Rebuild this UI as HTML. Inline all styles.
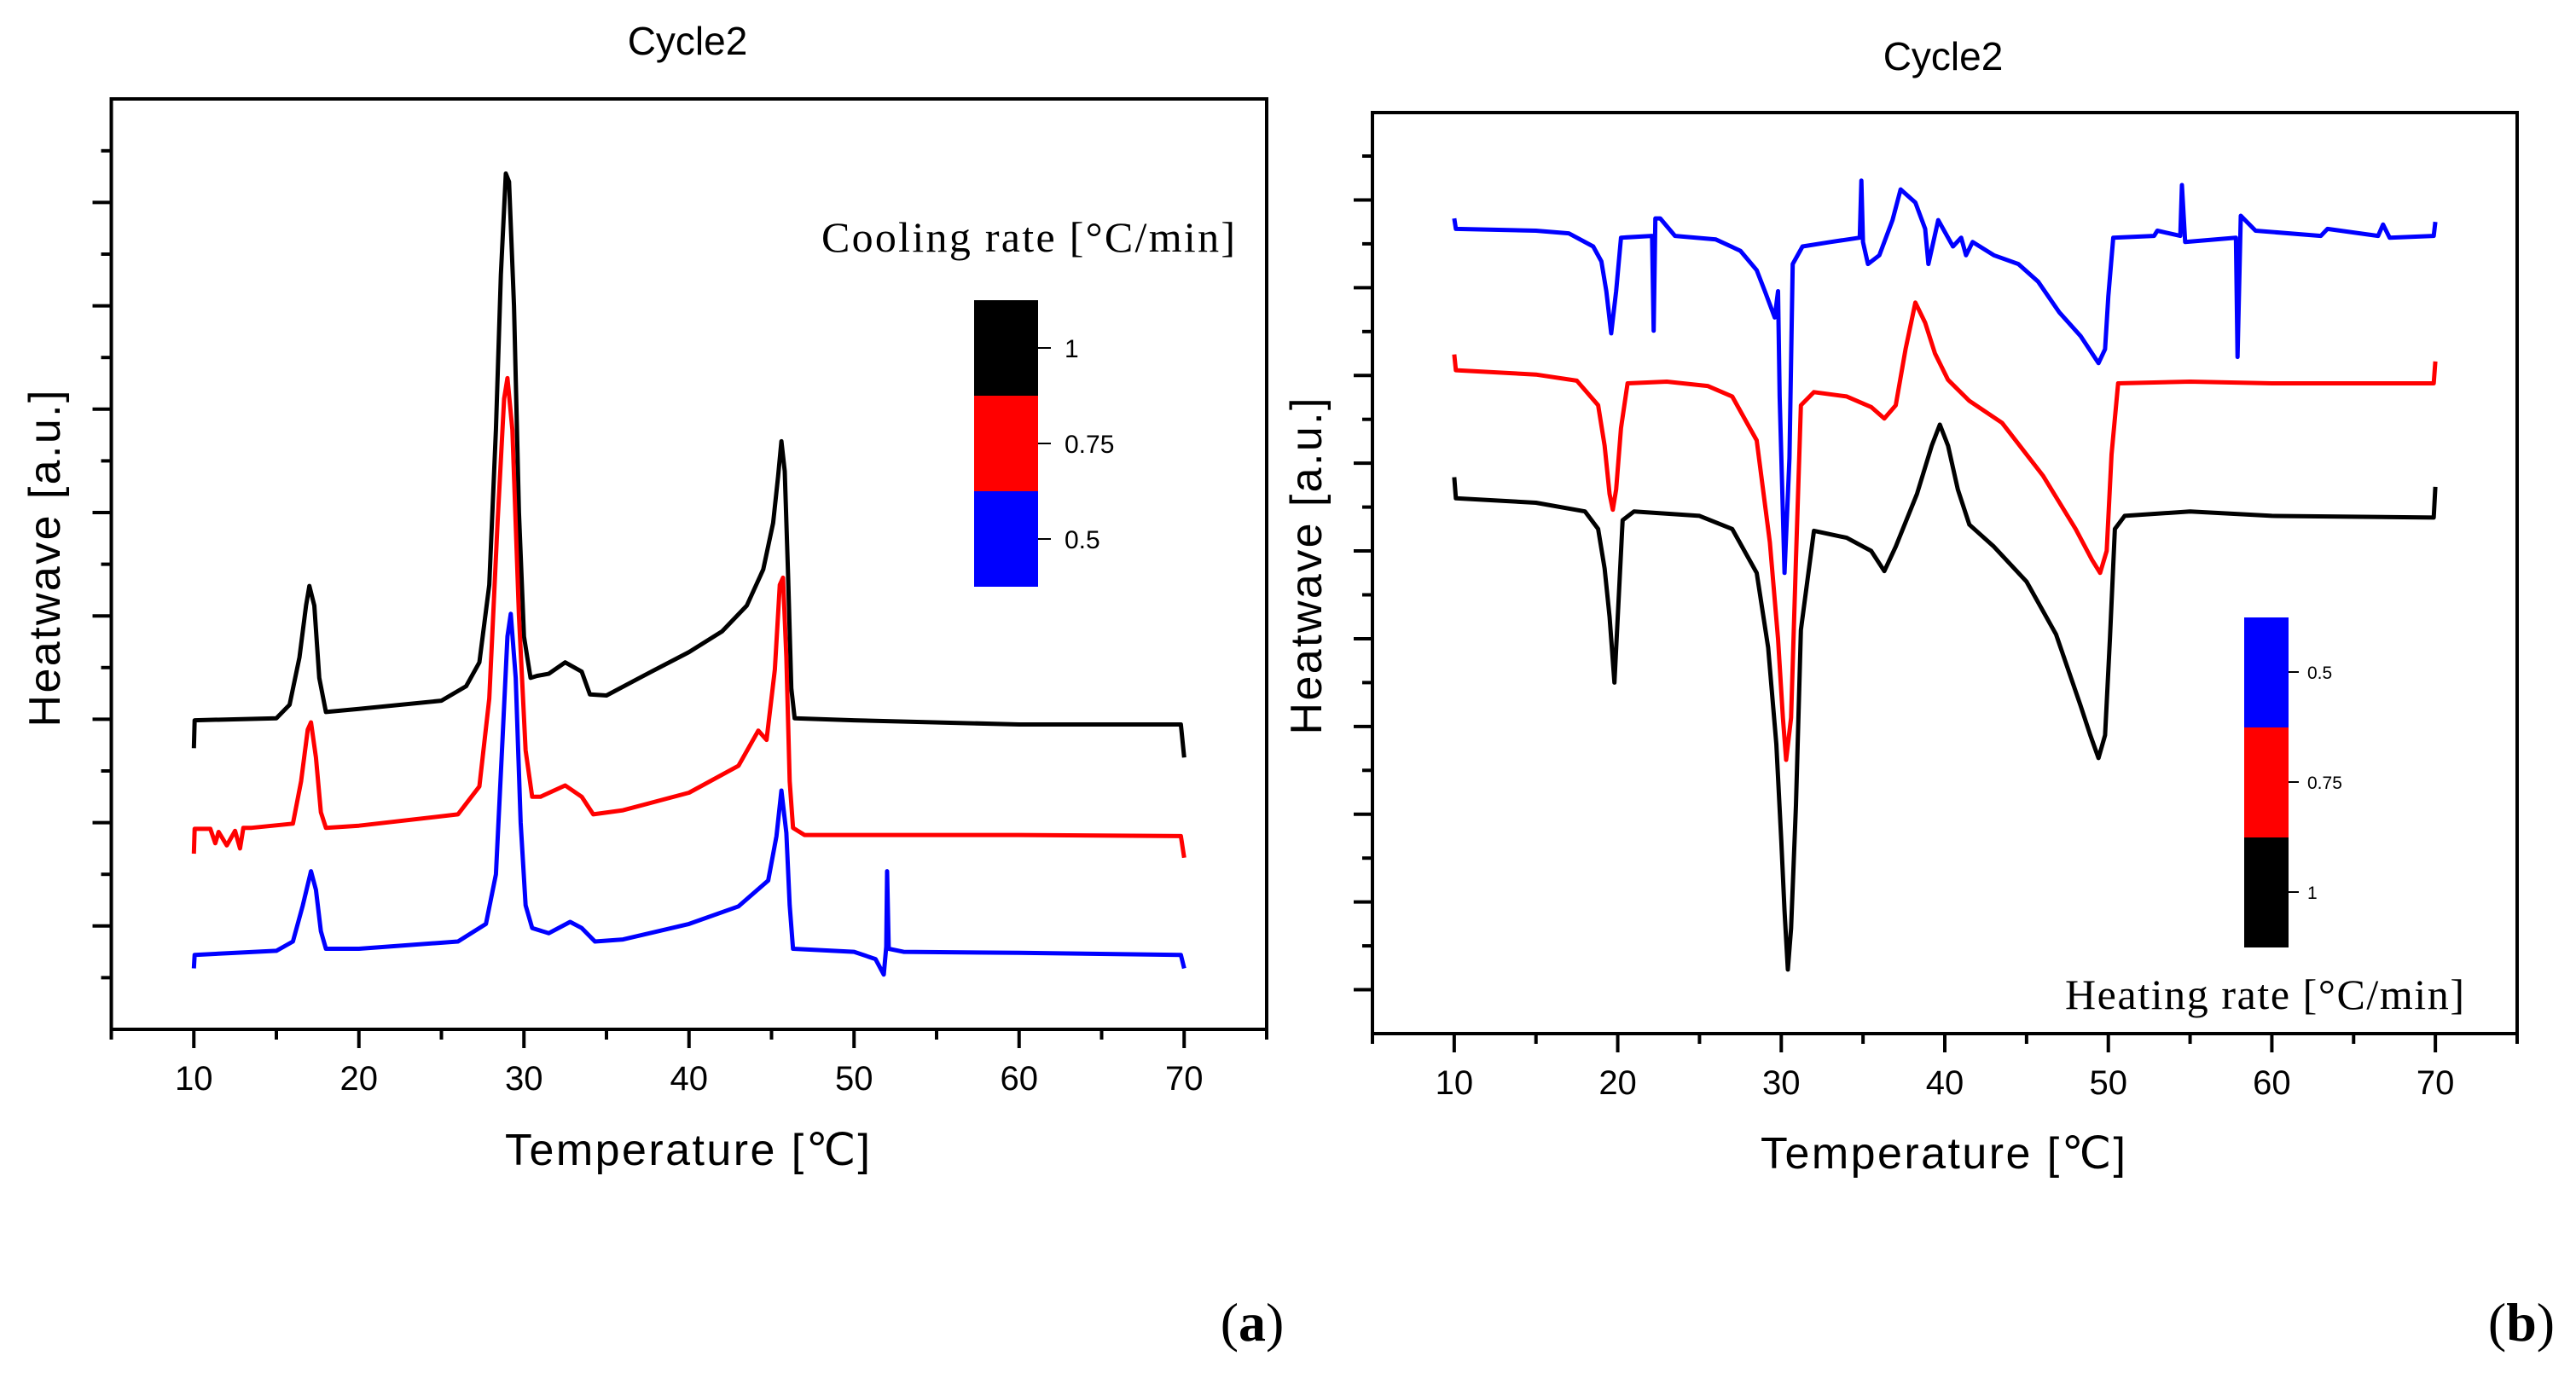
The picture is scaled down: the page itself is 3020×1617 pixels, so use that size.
<!DOCTYPE html>
<html><head><meta charset="utf-8"><style>
html,body{margin:0;padding:0;background:#fff;}
svg{display:block;}
.sans{font-family:"Liberation Sans",Arial,sans-serif;}
.serif{font-family:"Liberation Serif","Times New Roman",serif;}
</style></head><body>
<svg id="fig" width="3020" height="1617" viewBox="0 0 3020 1617" xmlns="http://www.w3.org/2000/svg">
<rect width="3020" height="1617" fill="#fff"/>
<g id="left"></g>
<g id="right"></g>
</svg>
<script>
// ---- Left chart data (cooling, Cycle2) ----
const coolBlackX=[10,10.05,15,15.8,16.4,16.8,17,17.3,17.6,18,20,25,26.5,27.3,27.9,28.3,28.6,28.9,29.1,29.4,29.7,30,30.4,30.8,31.5,32.5,33.5,34,35,37,40,42,43.5,44.5,45.1,45.4,45.6,45.8,46.0,46.2,46.4,50,60,69.8,70];
const coolBlackY=[2.72,2.99,3.01,3.14,3.60,4.10,4.29,4.10,3.40,3.07,3.10,3.18,3.32,3.55,4.30,5.80,7.30,8.28,8.20,7.00,5.00,3.80,3.40,3.42,3.44,3.55,3.46,3.24,3.23,3.40,3.65,3.85,4.10,4.45,4.90,5.35,5.69,5.40,4.40,3.30,3.01,2.99,2.95,2.95,2.63];
const coolRedX=[10,10.05,11,11.3,11.5,12,12.5,12.8,13,13.5,16,16.5,16.9,17.1,17.4,17.7,18,20,26,27.3,27.9,28.4,28.8,29,29.3,29.7,30.1,30.5,31,32.5,33.5,34.2,36,40,43,44.2,44.7,45.2,45.5,45.7,45.9,46.1,46.3,47,60,69.8,70];
const coolRedY=[1.70,1.94,1.94,1.80,1.91,1.78,1.92,1.75,1.95,1.95,1.99,2.40,2.90,2.97,2.63,2.10,1.95,1.97,2.08,2.35,3.20,4.90,6.10,6.30,5.80,4.00,2.70,2.25,2.25,2.36,2.25,2.08,2.12,2.29,2.55,2.89,2.80,3.48,4.30,4.37,3.60,2.40,1.95,1.88,1.88,1.87,1.66];
const coolBlueX=[10,10.05,15,16,16.6,17.1,17.4,17.7,18,20,26,27.7,28.3,28.7,29.0,29.2,29.5,29.8,30.1,30.5,31.5,32.8,33.5,34.3,36,40,43,44.8,45.3,45.6,45.9,46.1,46.3,50,51.3,51.8,51.95,52.0,52.1,53,60,69.8,70];
const coolBlueY=[0.59,0.72,0.76,0.85,1.20,1.53,1.35,0.95,0.78,0.78,0.85,1.02,1.50,2.80,3.80,4.02,3.40,2.00,1.20,0.98,0.93,1.04,0.98,0.85,0.87,1.02,1.19,1.44,1.87,2.31,1.90,1.20,0.78,0.75,0.68,0.53,0.80,1.53,0.78,0.75,0.74,0.72,0.59];
// ---- Right chart data (heating, Cycle2) ----
const heatBlackX=[10,10.1,15,18,18.8,19.2,19.5,19.8,20,20.3,21,25,27,28.5,29.2,29.7,30,30.2,30.4,30.6,30.9,31.2,32,34,35.5,36.3,37,38.3,39.2,39.7,40.2,40.8,41.5,43,45,46.8,48.3,48.9,49.4,49.8,50.1,50.4,51,55,60,69.9,70];
const heatBlackY=[6.34,6.10,6.05,5.95,5.75,5.30,4.75,4.00,4.75,5.85,5.95,5.90,5.75,5.25,4.40,3.30,2.20,1.40,0.73,1.20,2.60,4.60,5.73,5.65,5.50,5.27,5.55,6.15,6.70,6.94,6.70,6.20,5.80,5.55,5.15,4.55,3.74,3.40,3.14,3.40,4.50,5.75,5.90,5.95,5.90,5.88,6.23];
const heatRedX=[10,10.1,15,17.5,18.8,19.2,19.5,19.7,19.9,20.2,20.6,23,25.5,27,28.5,29.3,29.8,30.1,30.3,30.6,30.9,31.2,32,34,35.5,36.3,37,37.6,38.2,38.8,39.4,40.2,41.5,43.5,46,48,49.0,49.5,49.9,50.2,50.6,55,60,69.9,70];
const heatRedY=[7.74,7.56,7.51,7.44,7.16,6.70,6.15,5.97,6.20,6.90,7.41,7.43,7.38,7.26,6.76,5.60,4.50,3.60,3.12,3.60,5.40,7.16,7.31,7.26,7.14,7.01,7.16,7.80,8.33,8.10,7.75,7.45,7.21,6.96,6.36,5.75,5.40,5.25,5.50,6.60,7.41,7.43,7.41,7.41,7.66];
const heatBlueX=[10,10.1,15,17,18.5,19.0,19.3,19.6,19.9,20.2,22.1,22.2,22.3,22.6,23.5,26,27.5,28.5,29,29.6,29.8,29.9,30.2,30.5,30.7,31.3,33,34.8,34.9,35.0,35.3,36,36.8,37.3,38.2,38.8,39,39.6,40.5,41,41.3,41.7,43,44.5,45.7,47,48.3,48.8,49.4,49.8,50.0,50.3,52.8,53,54.4,54.5,54.7,57.8,57.9,58.1,59,63,63.4,66.5,66.8,67.2,69.9,70];
const heatBlueY=[9.29,9.17,9.15,9.12,8.97,8.80,8.46,7.98,8.46,9.07,9.09,8.01,9.29,9.29,9.09,9.05,8.92,8.70,8.46,8.16,8.46,7.26,5.25,6.56,8.77,8.97,9.02,9.07,9.72,9.02,8.77,8.87,9.27,9.62,9.47,9.17,8.77,9.27,8.97,9.07,8.87,9.02,8.87,8.77,8.57,8.22,7.95,7.81,7.64,7.80,8.40,9.07,9.09,9.15,9.09,9.67,9.02,9.07,7.71,9.32,9.15,9.09,9.17,9.09,9.22,9.07,9.09,9.25];
const xTicks=[10,20,30,40,50,60,70];
const coolLegendLabels=["1","0.75","0.5"];
const heatLegendLabels=["0.5","0.75","1"];

const NS="http://www.w3.org/2000/svg";
function mk(parent,tag,attrs,text){const e=document.createElementNS(NS,tag);for(const k in attrs)e.setAttribute(k,attrs[k]);if(text!==undefined)e.textContent=text;parent.appendChild(e);return e;}

function drawChart(g,cfg){
  const sx=v=>cfg.x0+(v-5)*(cfg.x1-cfg.x0)/70;
  const sy=v=>cfg.y0-v*cfg.uy;
  const fr=mk(g,'rect',{x:cfg.x0,y:cfg.y1,width:cfg.x1-cfg.x0,height:cfg.y0-cfg.y1,fill:'none',stroke:'#000','stroke-width':4});
  
  
  for(let v=5;v<=75;v+=5){
    const big=(v%10===0);
    const t=mk(g,'line',{x1:sx(v),x2:sx(v),y1:cfg.y0,y2:cfg.y0+(big?22:12),stroke:'#000','stroke-width':4});
    
    
  }
  xTicks.forEach(v=>{
    const l=mk(g,'text',{x:sx(v),y:cfg.y0+71,'text-anchor':'middle','font-size':40,class:'sans'},String(v));
    
    
  });
  cfg.yTicks.forEach(([v,big])=>{
    const t=mk(g,'line',{x1:cfg.x0-(big?22:12),x2:cfg.x0,y1:sy(v),y2:sy(v),stroke:'#000','stroke-width':4});
    
    
  });
  cfg.series.forEach(s=>{
    const d=s.x.map((v,i)=>(i?'L':'M')+sx(v).toFixed(1)+','+sy(s.y[i]).toFixed(1)).join(' ');
    const p=mk(g,'path',{d:d,fill:'none',stroke:s.c,'stroke-width':5,'stroke-linejoin':'round'});
    
    
  });
}
const L=document.getElementById('left'),R=document.getElementById('right');
const lt=[];for(let k=1;k<=17;k++){lt.push([k*0.5,k%2===0]);}
drawChart(L,{x0:130.5,x1:1485,y0:1207,y1:116,uy:121.2,yTicks:lt,series:[
  {x:coolBlackX,y:coolBlackY,c:'#000',n:'series-1'},{x:coolRedX,y:coolRedY,c:'#f00',n:'series-0-75'},{x:coolBlueX,y:coolBlueY,c:'#00f',n:'series-0-5'}]});
const rt=[];for(let k=1;k<=20;k++){rt.push([k*0.5,k%2===1]);}
drawChart(R,{x0:1609,x1:2951,y0:1212,y1:132,uy:102.9,yTicks:rt,series:[
  {x:heatBlackX,y:heatBlackY,c:'#000',n:'series-1'},{x:heatRedX,y:heatRedY,c:'#f00',n:'series-0-75'},{x:heatBlueX,y:heatBlueY,c:'#00f',n:'series-0-5'}]});

function txt(g,a,t,name){const e=mk(g,'text',a,t);return e;}
txt(L,{x:806,y:64,'text-anchor':'middle','font-size':46,class:'sans'},'Cycle2','chart-title');
txt(L,{x:806,y:1366,'text-anchor':'middle','font-size':52,class:'sans',textLength:428},'Temperature [\u2103]','x-axis-title');
txt(L,{x:0,y:0,'text-anchor':'middle','font-size':52,class:'sans',transform:'translate(70,655) rotate(-90)',textLength:395},'Heatwave [a.u.]','y-axis-title');
txt(L,{x:963,y:295,'font-size':50,class:'serif',textLength:485},'Cooling rate [\u00B0C/min]','legend-title');
['#000','#f00','#00f'].forEach((c,i)=>{const r=mk(L,'rect',{x:1142,y:352+i*112,width:75,height:112,fill:c});
 mk(L,'line',{x1:1217,x2:1232,y1:408+i*112,y2:408+i*112,stroke:'#000','stroke-width':2});
 txt(L,{x:1248,y:419+i*112,'font-size':30,class:'sans'},coolLegendLabels[i],'legend-label');});
const a=txt(L,{x:1468,y:1572,'text-anchor':'middle','font-size':64,class:'serif'},'','panel-label-a');
a.innerHTML='(<tspan font-weight="bold">a</tspan>)';
txt(R,{x:2278,y:82,'text-anchor':'middle','font-size':46,class:'sans'},'Cycle2','chart-title');
txt(R,{x:2278,y:1370,'text-anchor':'middle','font-size':52,class:'sans',textLength:428},'Temperature [\u2103]','x-axis-title');
txt(R,{x:0,y:0,'text-anchor':'middle','font-size':52,class:'sans',transform:'translate(1549,664) rotate(-90)',textLength:395},'Heatwave [a.u.]','y-axis-title');
txt(R,{x:2421,y:1183,'font-size':50,class:'serif',textLength:468},'Heating rate [\u00B0C/min]','legend-title');
['#00f','#f00','#000'].forEach((c,i)=>{const r=mk(R,'rect',{x:2631,y:724+i*129,width:52,height:129,fill:c});
 mk(R,'line',{x1:2683,x2:2695,y1:788+i*129,y2:788+i*129,stroke:'#000','stroke-width':2});
 txt(R,{x:2705,y:796+i*129,'font-size':21,class:'sans'},heatLegendLabels[i],'legend-label');});
const b=txt(R,{x:2956,y:1572,'text-anchor':'middle','font-size':64,class:'serif'},'','panel-label-b');
b.innerHTML='(<tspan font-weight="bold">b</tspan>)';
</script>
</body></html>
